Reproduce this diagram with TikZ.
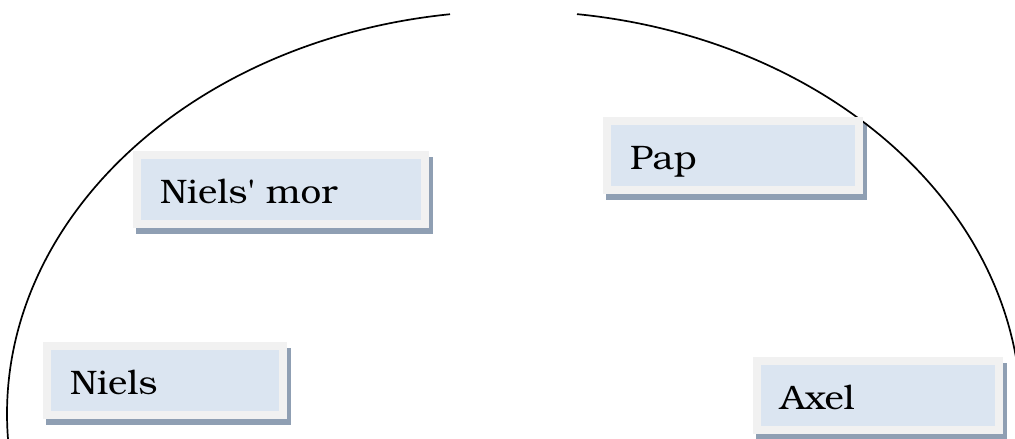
\documentclass[tikz,border=0pt]{standalone}
\usepackage{fontspec}
\newfontfamily\boxfont{texgyrebonum-regular.otf}[FakeStretch=1.08]
\usetikzlibrary{backgrounds}
\definecolor{innerblue}{HTML}{DBE5F1}
\definecolor{framegray}{HTML}{F1F1F1}
\definecolor{shadowcol}{HTML}{8F9FB3}
\tikzset{
  person/.style={draw=framegray, line width=8pt, fill=innerblue, anchor=north west,
    minimum height=69pt, inner xsep=23pt, inner ysep=0pt, align=left,
    text height=28pt, text depth=0pt,
    font=\boxfont\fontsize{34}{40}\selectfont},
  shadowbox/.style={fill=shadowcol},
  arcline/.style={line width=1.7pt, black}
}
\begin{document}
\begin{tikzpicture}[x=1pt,y=1pt]
\useasboundingbox (0,0) rectangle (1015,439);
% ellipse arcs (centre 514,25 ; radii 507, 403)
\coordinate (c) at (514,25);
\draw[arcline] (c) ++(97.25:507 and 403) arc[start angle=97.25, end angle=183.6, x radius=507, y radius=403];
\draw[arcline] (c) ++(7:507 and 403) arc[start angle=7, end angle=82.86, x radius=507, y radius=403];
% boxes
\node[person, text width=242pt] (mor) at (133,288) {Niels\textquotesingle{} mor};
\node[person, text width=190pt] (niels) at (43,97) {Niels};
\node[person, text width=196pt] (axel) at (753,82) {Axel};
\node[person, text width=206pt] (pap) at (603,322) {Pap};
\begin{scope}[on background layer]
\foreach \b in {mor,niels,axel,pap}{
  \fill[shadowbox] ([xshift=3pt,yshift=-6pt]\b.south west) rectangle ([xshift=4pt,yshift=-6pt]\b.north east);
}
\end{scope}
\end{tikzpicture}
\end{document}
